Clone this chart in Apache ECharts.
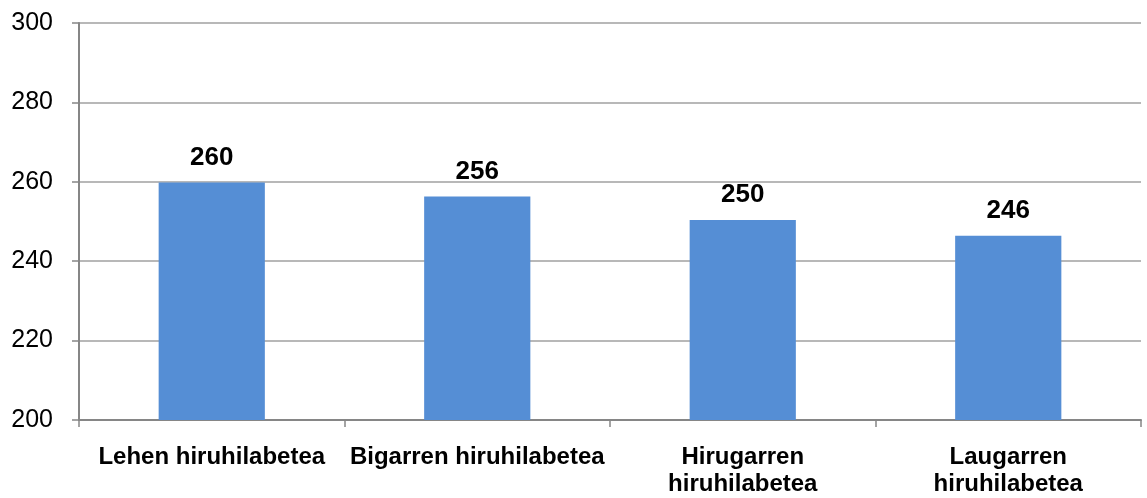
<!DOCTYPE html>
<html>
<head>
<meta charset="utf-8">
<script src="https://cdn.jsdelivr.net/npm/echarts@6/dist/echarts.min.js"></script>
<style>
html,body{margin:0;padding:0;background:#fff;}
#chart{width:1147px;height:498px;}
</style>
</head>
<body>
<div id="chart"></div>
<script>
const categories = ["Lehen hiruhilabetea", "Bigarren hiruhilabetea", "Hirugarren\nhiruhilabetea", "Laugarren\nhiruhilabetea"];
const values = [259.8, 256.3, 250.4, 246.4];
const yTicks = [200, 220, 240, 260, 280, 300];

const chart = echarts.init(document.getElementById('chart'), null, {renderer: 'canvas'});
chart.setOption({
  animation: false,
  backgroundColor: '#ffffff',
  grid: {left: 79, right: 6, top: 23, bottom: 74, containLabel: false},
  xAxis: {
    type: 'category',
    data: categories,
    axisLine: {show: true, lineStyle: {color: '#868686', width: 2}},
    axisTick: {show: true, length: 7, lineStyle: {color: '#868686', width: 1.5}},
    axisLabel: {
      interval: 0,
      margin: 24,
      color: '#000',
      fontFamily: 'Liberation Sans, Arial, sans-serif',
      fontWeight: 'bold',
      fontSize: 24,
      lineHeight: 27,
      align: 'center'
    }
  },
  yAxis: {
    type: 'value',
    min: yTicks[0],
    max: yTicks[yTicks.length - 1],
    interval: 20,
    axisLine: {show: true, lineStyle: {color: '#868686', width: 2}},
    axisTick: {show: true, length: 7, lineStyle: {color: '#868686', width: 1.5}},
    splitLine: {show: true, lineStyle: {color: '#A0A0A0', width: 1.5}},
    axisLabel: {
      margin: 26,
      color: '#000',
      fontFamily: 'Liberation Sans, Arial, sans-serif',
      fontSize: 25
    }
  },
  series: [{
    type: 'bar',
    data: values,
    barWidth: '40%',
    itemStyle: {color: '#558ED5'},
    label: {
      show: true,
      position: 'top',
      distance: 12,
      color: '#000',
      fontFamily: 'Liberation Sans, Arial, sans-serif',
      fontWeight: 'bold',
      fontSize: 26,
      formatter: p => Math.round(p.value)
    }
  }]
});
</script>
</body>
</html>
